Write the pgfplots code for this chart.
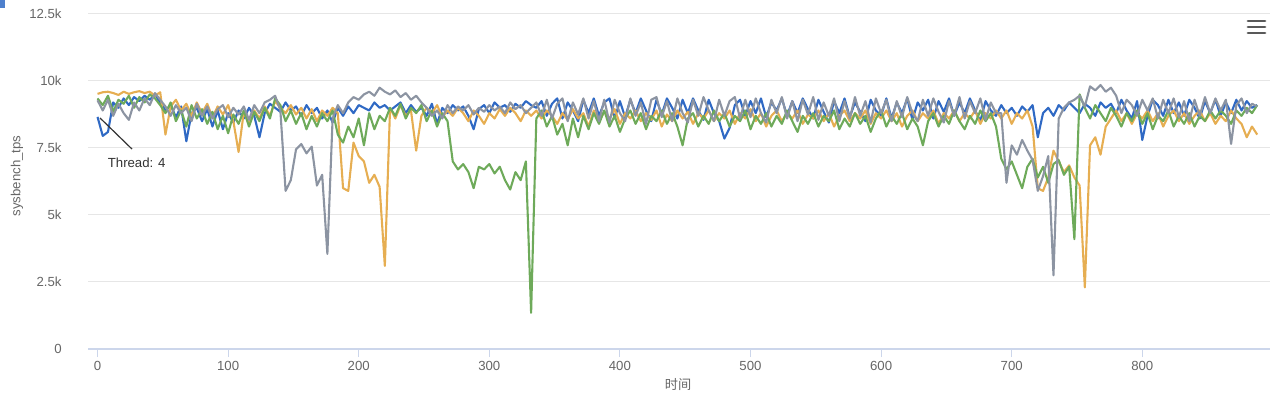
\documentclass[border=0pt]{standalone}
\usepackage{pgfplots}
\pgfplotsset{compat=1.18}
\usepackage{pgfplotstable}
\usepackage{fontspec}
\setmainfont{Liberation Sans}
\newfontfamily\cjk{Noto Sans CJK SC}
\definecolor{cBlue}{RGB}{47,105,196}
\definecolor{cOrange}{RGB}{230,174,82}
\definecolor{cGreen}{RGB}{110,170,90}
\definecolor{cGray}{RGB}{140,148,162}
\definecolor{gridc}{HTML}{E6E6E6}
\definecolor{axisc}{HTML}{CCD6EB}
\definecolor{labc}{HTML}{666666}
\pgfplotstableread{
x B O G Y
0 8660 9520 9350 9280
4 7950 9580 9100 8900
8 8100 9600 9450 9300
12 9200 9550 8850 8700
16 9000 9480 9300 9150
20 9350 9600 9150 8800
24 9100 9520 9450 8550
28 9400 9580 9000 9200
32 9250 9620 9400 8900
36 9450 9550 9200 9350
40 9300 9600 9500 9100
44 9500 9450 9350 9550
48 9200 9580 9100 9300
52 8900 8000 8800 9050
56 9100 9050 9200 8700
60 8650 9300 8500 9100
64 9050 8900 8900 8800
68 7750 9150 8300 9000
72 8800 8700 9100 8500
76 9000 9200 8600 9150
80 8500 8800 8950 8700
84 8950 9150 8400 9050
88 8300 8650 8850 8600
92 8900 9050 8200 8950
96 8200 8750 8700 9100
100 8800 9100 8050 8650
104 8450 8500 8750 9000
108 8900 7350 8400 8750
112 8600 8850 8900 9050
116 9000 8400 8300 8550
120 8700 8900 8850 9100
124 7900 8600 8500 8800
128 8800 9050 9000 9200
132 9150 8700 8600 9300
136 9000 9250 9350 9450
140 8850 9000 9100 8900
144 9200 8800 8500 5900
148 8900 9100 8900 6300
152 9050 8750 8400 7450
156 8700 9000 8800 7650
160 9100 8600 8200 7300
164 8800 8950 8700 7550
168 9000 8500 8300 6100
172 8600 8900 8800 6500
176 8900 8700 8500 3550
180 8450 9000 8900 8600
184 9000 8800 8000 9100
188 8700 6000 7700 8800
192 9050 5900 8300 9200
196 8800 7700 7900 9400
200 9100 7200 8600 9300
204 9000 7000 7600 9500
208 8900 6200 8800 9600
212 9200 6500 8200 9450
216 9000 6050 8700 9750
220 9100 3100 8500 9600
224 8900 9000 9000 9500
228 9050 8600 8700 9650
232 9200 9100 9150 9400
236 8800 8700 8600 9550
240 9100 8900 9000 9300
244 8850 7400 8800 9450
248 9000 8700 9100 9200
252 8700 9000 8500 9000
256 9150 8800 8900 8700
260 8400 9100 8300 8900
264 9000 8650 8800 8600
268 8800 8900 8500 9100
272 9100 8700 7000 8800
276 8900 9000 6700 9050
280 9050 8800 6900 8900
284 8700 8500 6600 9100
288 8200 8900 6000 8750
292 8950 8700 6800 9000
296 9100 8400 6700 8850
300 8800 8800 6900 9100
304 9200 8600 6550 8900
308 9000 8950 6800 9050
312 9100 8700 6300 8800
316 8850 9000 5950 9200
320 9150 8800 6600 8950
324 9000 8500 6300 9100
328 9250 8900 7000 8800
332 9100 8700 1350 9000
336 9000 8900 8600 9200
340 9250 8600 8900 8700
344 8700 8900 8300 9300
348 9150 8700 8700 8600
352 9350 8400 8000 9150
356 8600 8800 8400 9350
360 9200 8550 7600 8500
364 8900 8950 8600 9200
368 8500 8600 7900 8750
372 9300 8800 8700 9350
376 8800 8300 8200 8600
380 9350 8900 8800 9250
384 8700 8500 8400 8500
388 9200 8850 8900 9300
392 9350 8600 8300 8450
396 8600 8950 8700 9300
400 9250 8400 8100 8800
404 8650 8800 8600 8500
408 9300 8600 8900 9350
412 8800 8900 8400 8700
416 9350 8500 8800 9200
420 8900 8800 8200 8400
424 8500 8550 8700 9300
428 9300 8900 8500 9400
432 8750 8300 8900 8650
436 9350 8750 8400 9250
440 9000 8500 8800 8500
444 8600 8900 8300 9350
448 9300 8600 7600 8800
452 8800 8850 8600 8450
456 9350 8400 8800 9300
460 8900 8800 8300 8700
464 8550 8600 8700 9400
468 9300 8900 8400 8900
472 8800 8500 8900 8500
476 8500 8800 8500 9300
480 7850 8600 8800 8700
484 8250 8900 8300 9250
488 9100 8400 8700 9400
492 9300 8800 8500 8600
496 8700 8600 8900 9300
500 9250 8950 8200 8650
504 8800 8500 8700 9350
508 9350 8800 8400 8800
512 8650 8300 8800 8450
516 9200 8700 8300 9300
520 8900 8900 8700 8800
524 9350 8500 8400 9400
528 8700 8800 8900 8600
532 9250 8600 8500 9250
536 8800 8900 8100 8500
540 9350 8400 8700 9300
544 8950 8750 8400 8750
548 8600 8600 8800 9400
552 9300 8900 8300 8550
556 8850 8500 8700 9200
560 8450 8800 8500 8700
564 9250 8300 8900 9350
568 8800 8700 8200 8500
572 9350 8900 8600 9250
576 8650 8500 8300 8600
580 9200 8800 8800 9400
584 8850 8600 8400 8700
588 8500 8900 8700 9250
592 9300 8400 8100 8450
596 8900 8800 8600 9350
600 8700 8600 8900 8800
604 9350 8900 8300 9300
608 8600 8500 8700 8500
612 9200 8800 8400 9250
616 8800 8300 8800 8650
620 9350 8700 8200 9400
624 8550 8900 8600 8800
628 9200 8500 8300 8500
632 8900 8800 7600 9300
636 9300 8600 8500 8700
640 8600 8900 8800 9350
644 9250 8400 8300 8850
648 8850 8800 8700 8450
652 9350 8600 8400 9250
656 8700 8900 8900 8700
660 9200 8500 8500 9400
664 8800 8800 8200 8600
668 9350 8600 8700 9250
672 8900 8900 8400 8800
676 8500 8400 8900 9350
680 9250 8800 8500 8550
684 8900 8600 8800 9200
688 8700 8900 8300 8800
692 9100 8600 7100 8800
696 8800 8900 6700 6200
700 9000 8400 7000 7600
704 8700 8800 6500 7250
708 9050 8600 6000 7800
712 8850 8900 6800 7400
716 9100 8300 7100 7050
720 7900 6000 6400 5900
724 8800 5900 6800 6450
728 9000 6400 6200 7200
732 8700 7400 6900 2750
736 9100 7000 7050 8600
740 8900 6600 6500 9000
744 9200 6850 6800 9200
748 9000 6400 4100 9300
752 8800 6100 9500 9450
756 9150 2300 9000 9050
760 9000 7600 8600 9800
764 8700 7900 9100 9650
768 9200 7250 8800 9850
772 9000 8300 8500 9600
776 9150 8600 9000 9750
780 8800 8900 8700 9450
784 9300 8500 8300 8800
788 8900 8800 8800 9300
792 8600 8400 8500 9100
796 9250 8800 8900 8700
800 7800 8600 8400 9300
804 8700 8900 8800 8900
808 9300 8500 8200 9350
812 9100 8800 8700 8600
816 8700 8300 8500 9300
820 9300 8700 8900 8800
824 8800 8900 8300 9350
828 9200 8500 8700 8650
832 8700 8800 8400 9250
836 9300 8400 8800 8500
840 9000 8700 8300 9300
844 8600 8900 8700 8700
848 9250 8500 8500 9400
852 8800 8800 8900 8800
856 9300 8400 8600 9350
860 8700 8700 8900 8900
864 9200 8500 8700 9300
868 8800 8900 8400 7650
872 9300 8600 8900 9100
876 8900 8400 8700 9350
880 9250 7900 9000 8800
884 9000 8300 8800 9150
888 9100 8000 9100 9050
}\data
\begin{document}
\begin{tikzpicture}
\useasboundingbox (0,0) rectangle (640pt,198pt);
\fill[cBlue!85] (0,194pt) rectangle (2.5pt,198pt);
\begin{axis}[
  at={(44pt,23.5pt)}, anchor=south west, scale only axis,
  width=591pt, height=167.5pt,
  xmin=-7.3, xmax=897.8, ymin=0, ymax=12500,
  axis lines=left,
  x axis line style={draw=axisc, line width=0.6pt, -},
  y axis line style={draw=none, -},
  scaled y ticks=false, scaled x ticks=false,
  ytick={0,2500,5000,7500,10000,12500},
  yticklabels={0,2.5k,5k,7.5k,10k,12.5k},
  xtick={0,100,200,300,400,500,600,700,800},
  xticklabels={0,100,200,300,400,500,600,700,800},
  ymajorgrids, grid style={gridc, line width=0.5pt},
  tick align=outside, major tick length=4pt,
  xtick style={draw=axisc, line width=0.5pt},
  ytick style={draw=none},
  ticklabel style={font=\fontsize{6.6}{7}\selectfont, text=labc},
  yticklabel style={inner sep=0pt, anchor=east, xshift=-9pt},
  xticklabel style={inner sep=0pt, anchor=center, yshift=-4.5pt},
  /pgf/number format/assume math mode=true,
  every axis plot/.append style={line width=1.05pt, line join=round, no markers},
  clip=false,
]
\addplot[cBlue] table[x=x, y=B] {\data};
\addplot[cOrange] table[x=x, y=O] {\data};
\addplot[cGreen] table[x=x, y=G] {\data};
\addplot[cGray] table[x=x, y=Y] {\data};
\draw[black!80, line width=0.6pt] (axis cs:1.9,8620) -- (axis cs:26.4,7460);
\node[font=\fontsize{6.6}{7}\selectfont, text=black!80] at (axis cs:30,6940) {Thread: 4};
\end{axis}
\node[rotate=90, font=\fontsize{6.6}{7}\selectfont, text=labc] at (8.5pt,110pt) {sysbench\_tps};
\node[font=\cjk\fontsize{6.6}{7}\selectfont, text=labc] at (339pt,5.5pt) {时间};
\foreach \yy in {187.5,184.5,181.5}{
  \draw[line width=1.4pt, line cap=round, black!65] (624pt,\yy pt) -- (632.5pt,\yy pt);
}
\end{tikzpicture}
\end{document}
